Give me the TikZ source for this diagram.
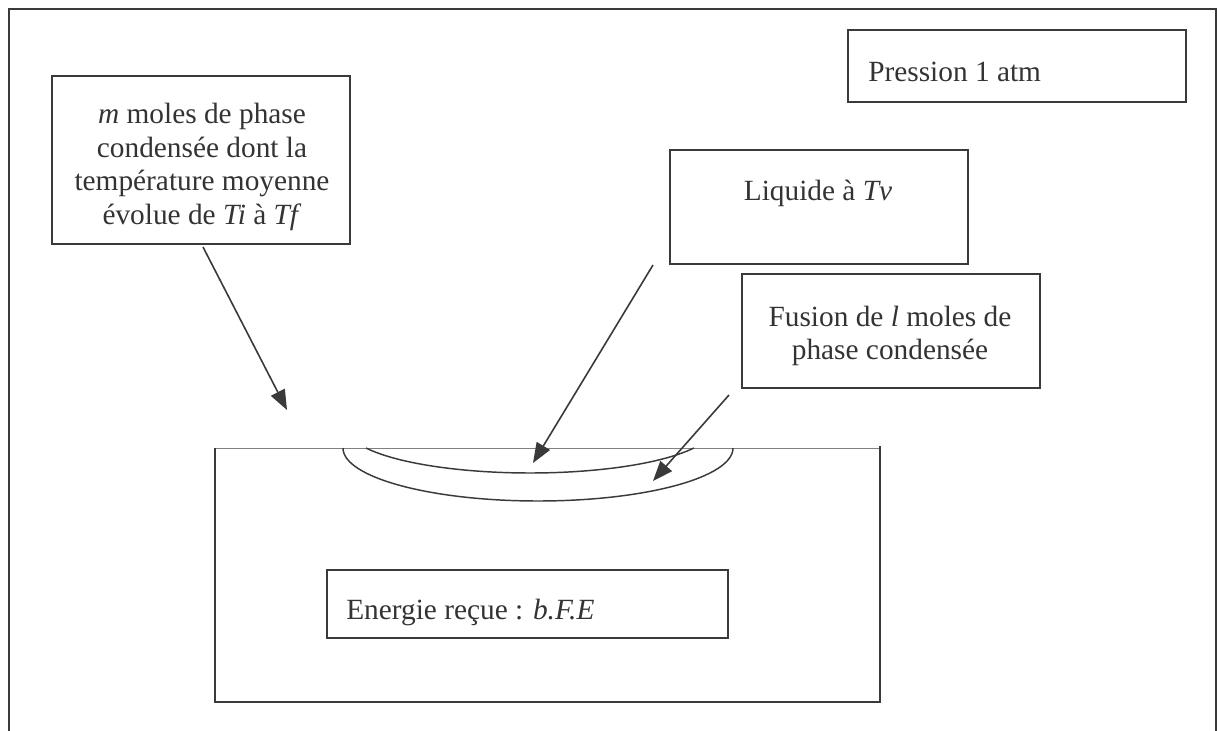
\documentclass[tikz,border=0pt]{standalone}
\usepackage{fontspec}
\setmainfont{Liberation Serif}
\usetikzlibrary{arrows.meta}
\definecolor{linec}{HTML}{3A3A3A}
\definecolor{textc}{HTML}{333333}
\begin{document}
\begin{tikzpicture}[x=0.75pt,y=-0.75pt,
  box/.style={draw=linec, line width=1.3pt, inner sep=0pt, anchor=north west},
  lbl/.style={inner sep=0pt, text=textc, font=\fontsize{22pt}{25.3pt}\selectfont},
  arr/.style={draw=linec, line width=1.2pt, -{Triangle[length=15pt,width=11.5pt]}},
  curve/.style={draw=linec, line width=1.1pt},
  frameline/.style={draw=linec, line width=1.4pt}]
\useasboundingbox (0,0) rectangle (1218,731);
% outer frame
\draw[frameline] (9,731) -- (9,9) -- (1216,9) -- (1216,731);
% boxes
\node[box, minimum width=223.5pt, minimum height=126pt] (mbox) at (51,75) {};
\node[box, minimum width=253.5pt, minimum height=54pt] (pbox) at (847,29) {};
\node[box, minimum width=223.5pt, minimum height=85.5pt] (lbox) at (669,149) {};
\node[box, minimum width=223.5pt, minimum height=85.5pt] (fbox) at (741,273) {};
\node[box, minimum width=300.75pt, minimum height=51pt] (ebox) at (326,569) {};
% texts
\node[lbl, align=center] (mtxt) at (202,167)
  {\textit{m} moles de phase\\condensée dont la\\température moyenne\\évolue de \textit{Ti} à \textit{Tf}};
\node[lbl, anchor=base west] (ptxt) at (868,82) {Pression 1 atm};
\node[lbl, anchor=base] (ltxt) at (818,201) {Liquide à \textit{Tv}};
\node[lbl, align=center] (ftxt) at (890,336)
  {Fusion de \textit{l} moles de\\phase condensée};
\node[lbl, anchor=base west] (etxt) at (346,619) {Energie reçue : \textit{b.F.E}};
% solid block
\draw[draw=gray, line width=0.7pt] (215,448) -- (880,448);
\draw[frameline, line width=1.3pt] (215,448) -- (215,702) -- (880,702) -- (880,446);
% melted zones
\draw[curve] (343,448) arc[start angle=180, end angle=0, x radius=195, y radius=53];
\draw[curve] (366,448) arc[start angle=153.6, end angle=26.4, x radius=183, y radius=45];
% arrow ends
\coordinate (mstart) at (203,247);
\coordinate (mtip) at (287,410);
\coordinate (lstart) at (653,265);
\coordinate (ltip) at (533,463);
\coordinate (fstart) at (729,395);
\coordinate (ftip) at (653,481);
\draw[arr] (mstart) -- (mtip);
\draw[arr] (lstart) -- (ltip);
\draw[arr] (fstart) -- (ftip);
\end{tikzpicture}
\end{document}
